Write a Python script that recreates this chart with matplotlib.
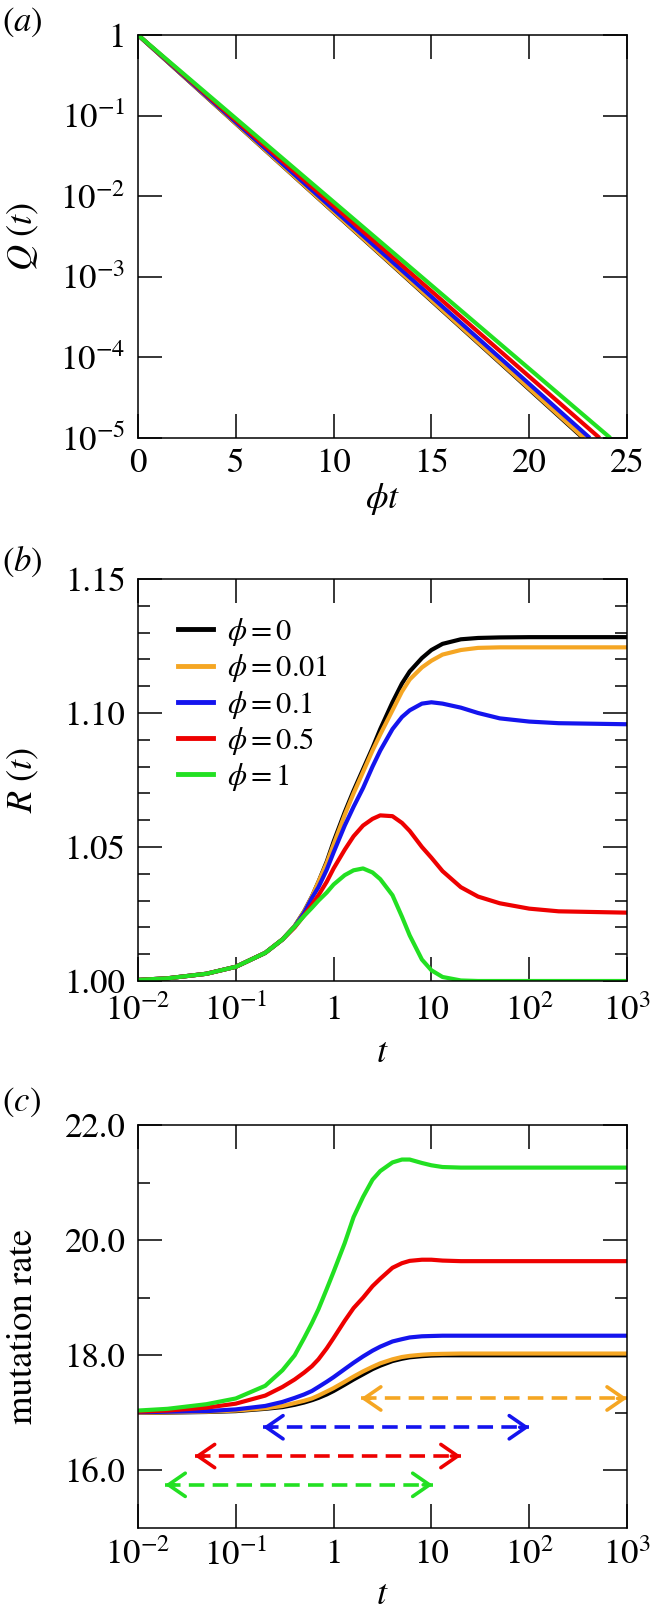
import matplotlib
matplotlib.use("Agg")
import matplotlib.pyplot as plt

plt.rcParams['font.family'] = ['STIXGeneral', 'DejaVu Serif']
plt.rcParams['mathtext.fontset'] = 'stix'

# ---------------- data ----------------
series_labels = [r'$\phi = 0$', r'$\phi = 0.01$', r'$\phi = 0.1$', r'$\phi = 0.5$', r'$\phi = 1$']
colors = ['#000000', '#f5a623', '#1414ee', '#ee0000', '#22e022']

# panel (a): straight lines on the log scale from (0, 1) down to (end, 1e-5)
q_start_x = [0, 0, 0, 0, 0]
q_start_y = [1, 1, 1, 1, 1]
q_end_x = [22.75, 22.8, 23.1, 23.6, 24.15]
q_end_y = [1e-5, 1e-5, 1e-5, 1e-5, 1e-5]

# time grid for panels (b) and (c)
T = [0.01, 0.02, 0.05, 0.1, 0.2, 0.3, 0.4, 0.5, 0.6, 0.7, 0.85, 1, 1.3, 1.6, 2, 2.5, 3, 4, 5, 6, 8,
     10, 13, 20, 30, 50, 100, 200, 1000]

R_phi0 = [1.0004, 1.0010, 1.0027, 1.0053, 1.0105, 1.0155, 1.0205, 1.026, 1.0315, 1.037, 1.0445,
          1.052, 1.063, 1.071, 1.079, 1.087, 1.094, 1.104, 1.111, 1.1155, 1.1205, 1.1235, 1.1258,
          1.1275, 1.128, 1.1282, 1.1283, 1.1283, 1.1283]
R_phi001 = [1.0004, 1.0010, 1.0027, 1.0053, 1.0105, 1.0155, 1.0205, 1.026, 1.0315, 1.037, 1.044,
            1.051, 1.062, 1.070, 1.078, 1.086, 1.092, 1.101, 1.108, 1.1125, 1.117, 1.1195, 1.1218,
            1.1235, 1.1243, 1.1245, 1.1245, 1.1245, 1.1245]
R_phi01 = [1.0004, 1.0010, 1.0027, 1.0053, 1.0105, 1.0155, 1.0203, 1.0255, 1.031, 1.035, 1.0415,
           1.048, 1.058, 1.065, 1.072, 1.080, 1.086, 1.094, 1.0985, 1.101, 1.1035, 1.104, 1.1035,
           1.102, 1.100, 1.098, 1.0968, 1.0962, 1.0958]
R_phi05 = [1.0004, 1.0010, 1.0027, 1.0053, 1.0105, 1.0155, 1.0200, 1.0245, 1.0285, 1.032, 1.037,
           1.042, 1.049, 1.054, 1.058, 1.0605, 1.0618, 1.0615, 1.059, 1.056, 1.050, 1.046, 1.041,
           1.035, 1.0315, 1.029, 1.027, 1.026, 1.0255]
R_phi1 = [1.0004, 1.0010, 1.0027, 1.0053, 1.0105, 1.0155, 1.0203, 1.0243, 1.0273, 1.0300, 1.033,
          1.036, 1.0395, 1.0413, 1.042, 1.0405, 1.038, 1.032, 1.024, 1.017, 1.008, 1.004, 1.0015,
          1.0002, 1.0, 1.0, 1.0, 1.0, 1.0]

M_phi0 = [17.0, 17.005, 17.015, 17.03, 17.07, 17.10, 17.14, 17.18, 17.22, 17.26, 17.32, 17.38,
          17.49, 17.58, 17.67, 17.76, 17.82, 17.90, 17.94, 17.965, 17.985, 17.995, 18.0, 18.0,
          18.0, 18.0, 18.0, 18.0, 18.0]
M_phi001 = [17.0, 17.01, 17.02, 17.04, 17.08, 17.12, 17.17, 17.21, 17.25, 17.30, 17.37, 17.43,
            17.54, 17.63, 17.72, 17.80, 17.86, 17.93, 17.97, 17.99, 18.01, 18.02, 18.025, 18.03,
            18.03, 18.03, 18.03, 18.03, 18.03]
M_phi01 = [17.01, 17.02, 17.03, 17.06, 17.12, 17.19, 17.26, 17.32, 17.38, 17.45, 17.54, 17.62,
           17.76, 17.87, 17.98, 18.08, 18.15, 18.24, 18.28, 18.31, 18.33, 18.335, 18.34, 18.34,
           18.34, 18.34, 18.34, 18.34, 18.34]
M_phi05 = [17.02, 17.04, 17.09, 17.16, 17.30, 17.45, 17.58, 17.70, 17.81, 17.93, 18.12, 18.30,
           18.60, 18.82, 19.00, 19.20, 19.33, 19.52, 19.60, 19.64, 19.66, 19.66, 19.645, 19.635,
           19.635, 19.635, 19.635, 19.635, 19.635]
M_phi1 = [17.04, 17.07, 17.15, 17.25, 17.47, 17.74, 18.00, 18.30, 18.56, 18.80, 19.15, 19.45,
          19.95, 20.40, 20.75, 21.05, 21.20, 21.35, 21.40, 21.40, 21.34, 21.30, 21.27, 21.26,
          21.26, 21.26, 21.26, 21.26, 21.26]

R_all = [R_phi0, R_phi001, R_phi01, R_phi05, R_phi1]
M_all = [M_phi0, M_phi001, M_phi01, M_phi05, M_phi1]

# double arrows in panel (c): orange, blue, red, green
arrow_start = [1.9, 0.19, 0.038, 0.019]
arrow_end = [1000, 100, 20, 10.3]
arrow_y = [17.25, 16.75, 16.25, 15.75]
arrow_colors = [colors[1], colors[2], colors[3], colors[4]]

log_ticks = [0.01, 0.1, 1, 10, 100, 1000]
log_ticklabels = [r'$10^{-2}$', r'$10^{-1}$', '1', '10', r'$10^{2}$', r'$10^{3}$']
q_ticks = [1, 1e-1, 1e-2, 1e-3, 1e-4, 1e-5]
q_ticklabels = ['1', r'$10^{-1}$', r'$10^{-2}$', r'$10^{-3}$', r'$10^{-4}$', r'$10^{-5}$']

# ---------------- figure ----------------
W, H = 654, 1616
fig = plt.figure(figsize=(W / 100, H / 100), dpi=100)

def ax_rect(top_px, bottom_px, left_px=138, right_px=627):
    return [left_px / W, 1 - bottom_px / H, (right_px - left_px) / W, (bottom_px - top_px) / H]

axA = fig.add_axes(ax_rect(35, 438))
axB = fig.add_axes(ax_rect(579, 981))
axC = fig.add_axes(ax_rect(1125, 1528))

FS = 25
LW = 3.0

def style(ax, xpad=7):
    for s in ax.spines.values():
        s.set_linewidth(1.1)
    ax.tick_params(which='both', direction='in', top=True, right=True, labelsize=FS)
    ax.tick_params(axis='x', pad=xpad)
    ax.tick_params(axis='y', pad=9)
    ax.tick_params(which='major', length=17, width=1.1)
    ax.tick_params(which='minor', length=8.5, width=1.1)

# panel (a)
for i in range(5):
    axA.plot([q_start_x[i], q_end_x[i]], [q_start_y[i], q_end_y[i]], color=colors[i], lw=LW,
             solid_capstyle='butt')
axA.set_yscale('log')
axA.set_xlim(0, 25)
axA.set_ylim(1e-5, 1)
axA.set_xticks([0, 5, 10, 15, 20, 25])
axA.set_xticklabels(['0', '5', '10', '15', '20', '25'])
axA.set_yticks(q_ticks)
axA.set_yticklabels(q_ticklabels)
axA.yaxis.set_minor_locator(matplotlib.ticker.NullLocator())
style(axA)
axA.set_xlabel(r'$\phi t$', fontsize=FS + 1, va='center')
axA.xaxis.set_label_coords(0.5, -0.152)
axA.set_ylabel(r'$Q\ (t)$', fontsize=FS + 1, va='center')
axA.yaxis.set_label_coords(-0.235, 0.5)

# panel (b)
for i in range(5):
    axB.plot(T, R_all[i], color=colors[i], lw=LW, label=series_labels[i])
axB.set_xscale('log')
axB.set_xlim(0.01, 1000)
axB.set_ylim(1.0, 1.15)
axB.set_xticks(log_ticks)
axB.set_xticklabels(log_ticklabels)
axB.xaxis.set_minor_locator(matplotlib.ticker.NullLocator())
axB.set_yticks([1.00, 1.05, 1.10, 1.15])
axB.set_yticklabels(['1.00', '1.05', '1.10', '1.15'])
axB.set_yticks([1.01, 1.02, 1.03, 1.04, 1.06, 1.07, 1.08, 1.09, 1.11, 1.12, 1.13, 1.14], minor=True)
style(axB, xpad=10)
axB.set_xlabel(r'$t$', fontsize=FS + 1, va='center')
axB.xaxis.set_label_coords(0.5, -0.18)
axB.set_ylabel(r'$R\ (t)$', fontsize=FS + 1, va='center')
axB.yaxis.set_label_coords(-0.235, 0.5)
leg = axB.legend(loc='upper left', bbox_to_anchor=(0.082, 0.908), frameon=False, fontsize=22,
                 handlelength=1.15, handletextpad=0.45, labelspacing=0.14, borderpad=0,
                 borderaxespad=0)
for line in leg.get_lines():
    line.set_linewidth(3.5)

# panel (c)
for i in range(5):
    axC.plot(T, M_all[i], color=colors[i], lw=LW)
for i in range(4):
    axC.plot([arrow_start[i], arrow_end[i]], [arrow_y[i], arrow_y[i]], color=arrow_colors[i],
             lw=2.6, linestyle=(0, (4.3, 2.3)))
    for tip, tail in ((arrow_end[i], arrow_end[i] / 1.25), (arrow_start[i], arrow_start[i] * 1.25)):
        axC.annotate('', xy=(tip, arrow_y[i]), xytext=(tail, arrow_y[i]),
                     arrowprops=dict(arrowstyle='->,head_length=0.55,head_width=0.38',
                                     color=arrow_colors[i], lw=2.6, mutation_scale=22,
                                     shrinkA=0, shrinkB=0))
axC.set_xscale('log')
axC.set_xlim(0.01, 1000)
axC.set_ylim(15.0, 22.0)
axC.set_xticks(log_ticks)
axC.set_xticklabels(log_ticklabels)
axC.xaxis.set_minor_locator(matplotlib.ticker.NullLocator())
axC.set_yticks([16, 18, 20, 22])
axC.set_yticklabels(['16.0', '18.0', '20.0', '22.0'])
axC.set_yticks([17, 19, 21], minor=True)
style(axC, xpad=8)
axC.set_xlabel(r'$t$', fontsize=FS + 1, va='center')
axC.xaxis.set_label_coords(0.5, -0.168)
axC.set_ylabel('mutation rate', fontsize=26.5, va='center')
axC.yaxis.set_label_coords(-0.235, 0.5)

# panel letters
for lab, ypx in (('($a$)', 22), ('($b$)', 562), ('($c$)', 1102)):
    fig.text(2 / W, 1 - ypx / H, lab, fontsize=FS, va='center', ha='left')

fig.savefig('out.png', dpi=100)
